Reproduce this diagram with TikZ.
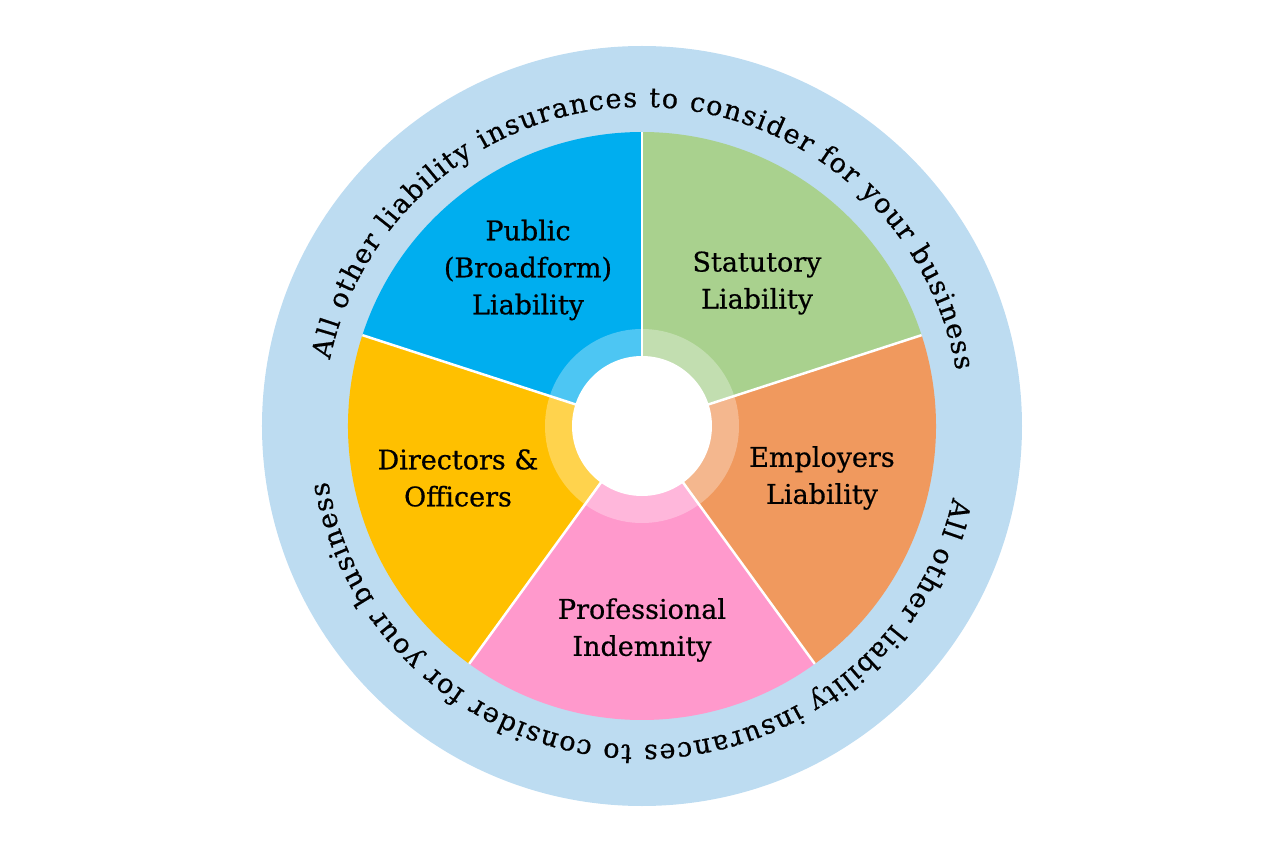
\documentclass[tikz,border=0pt]{standalone}
\usepackage{fontspec}
\setmainfont{DejaVu Serif}
\newfontfamily\wheelfont{DejaVu Serif}[FakeBold=0.6]
\usepackage{xcolor}
\usepackage{tikz}
\usetikzlibrary{decorations.text}

\definecolor{ringblue}{HTML}{BDDCF1}
\definecolor{pubblue}{HTML}{00AEEF}
\definecolor{statgreen}{HTML}{A9D18E}
\definecolor{emporange}{HTML}{F0995E}
\definecolor{profpink}{HTML}{FF99CC}
\definecolor{diryellow}{HTML}{FFC000}

\begin{document}
\begin{tikzpicture}[x=1pt, y=1pt,
  sep/.style   = {draw=white, line width=2.5pt},
  lbl/.style   = {align=center, text=black,
                  font=\wheelfont\fontsize{27}{37}\selectfont},
  rtext/.style = {decorate, decoration={text along path,
                  text align={fit to path}, text color=black,
                  text={|\wheelfont\fontsize{27}{27}\selectfont|#1}}},
]
\useasboundingbox (-642,-428) rectangle (638,426);

%% outer ring
\fill[ringblue] (0,0) circle[radius=380];

%% segments
\fill[pubblue]   (0,0) -- (90:294)   arc[start angle=90,   end angle=162, radius=294] -- cycle;
\fill[statgreen] (0,0) -- (18:294)   arc[start angle=18,   end angle=90,  radius=294] -- cycle;
\fill[emporange] (0,0) -- (-54:294)  arc[start angle=-54,  end angle=18,  radius=294] -- cycle;
\fill[profpink]  (0,0) -- (-126:294) arc[start angle=-126, end angle=-54, radius=294] -- cycle;
\fill[diryellow] (0,0) -- (162:294)  arc[start angle=162,  end angle=234, radius=294] -- cycle;

%% light inner band and hole
\fill[white, opacity=0.3] (0,0) circle[radius=97];
\foreach \a in {90,18,-54,-126,162}
  \draw[sep] (0,0) -- (\a:294);
\fill[white] (0,0) circle[radius=70];

%% ring texts
\path[rtext={All other liability insurances to consider for your business}]
  (168:319) arc[start angle=168, end angle=10, radius=319];
\path[rtext={All other liability insurances to consider for your business}]
  (-13:319) arc[start angle=-13, end angle=-170, radius=319];

%% labels
\node[lbl] (pub)  at (-114, 156) {Public\\(Broadform)\\Liability};
\node[lbl] (stat) at ( 115, 143) {Statutory\\Liability};
\node[lbl] (emp)  at ( 180, -52) {Employers\\Liability};
\node[lbl] (prof) at (   0,-204) {Professional\\Indemnity};
\node[lbl] (dir)  at (-184, -52) {Directors \&\\Officers};

\end{tikzpicture}
\end{document}
